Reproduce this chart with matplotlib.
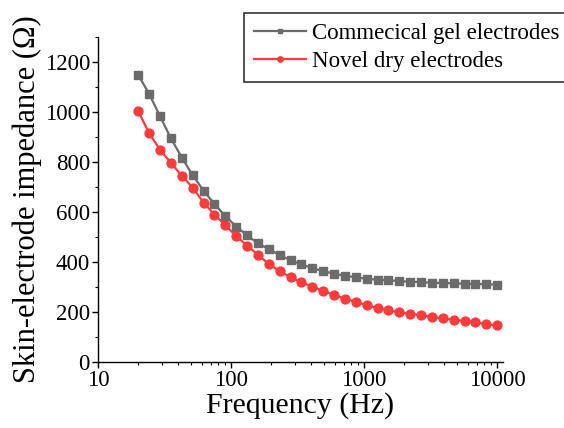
import matplotlib.pyplot as plt
from matplotlib.ticker import MultipleLocator, FixedLocator, NullFormatter

# frequencies (Hz)
freq = [20, 24.1, 29.1, 35.2, 42.5, 51.3, 61.9, 74.8, 90.3, 109, 131.6, 158.9,
        191.8, 231.6, 279.6, 337.5, 407.4, 491.8, 593.7, 716.7, 865.2, 1044,
        1261, 1522, 1837, 2218, 2678, 3233, 3902, 4711, 5687, 6866, 8289, 10000]

# impedance (ohm)
gel = [1147, 1073, 983, 894, 817, 746, 685, 631, 583, 541, 506, 474,
       450, 427, 406, 390, 374, 363, 352, 344, 338, 332, 328, 326,
       323, 320, 319, 316, 315, 314, 312, 311, 310, 309]
dry = [1003, 915, 849, 796, 744, 697, 637, 589, 546, 503, 465, 428,
       391, 363, 338, 318, 300, 284, 267, 252, 240, 226, 215, 206,
       198, 192, 186, 179, 174, 168, 163, 158, 150, 145]

labels = ['Commecical gel electrodes', 'Novel dry electrodes']

plt.rcParams['font.family'] = ['Liberation Serif', 'DejaVu Serif']

fig = plt.figure(figsize=(5.64, 4.28), dpi=100)
ax = fig.add_axes([0.1743, 0.1549, 0.891 - 0.1743, 0.9136 - 0.1549])

ax.plot(freq, gel, '-s', color='#6b6b6b', lw=1.6, ms=5.8, label=labels[0])
ax.plot(freq, dry, '-o', color='#ff3b3b', lw=1.6, ms=6.4, label=labels[1])

ax.set_xscale('log')
ax.set_xlim(10, 10980)
ax.set_ylim(0, 1300)
ax.xaxis.set_major_locator(FixedLocator([10, 100, 1000, 10000]))
ax.set_xticklabels(['10', '100', '1000', '10000'])
ax.xaxis.set_minor_formatter(NullFormatter())
ax.yaxis.set_major_locator(MultipleLocator(200))
ax.yaxis.set_minor_locator(MultipleLocator(100))

for s in ['top', 'right']:
    ax.spines[s].set_visible(False)
for s in ['left', 'bottom']:
    ax.spines[s].set_linewidth(1.0)

ax.tick_params(which='major', direction='out', length=4, width=1.0,
               labelsize=16.5, pad=2)
ax.tick_params(which='minor', direction='out', length=2.5, width=0.8)

ax.set_xlabel('Frequency (Hz)', fontsize=21.5, labelpad=1)
ax.set_ylabel('Skin-electrode impedance (Ω)', fontsize=22, labelpad=2)

leg = fig.legend(loc='upper left', bbox_to_anchor=(244 / 564, 1 - 13 / 428),
                 fontsize=16.5, frameon=True, fancybox=False, borderaxespad=0,
                 handlelength=2.3, handletextpad=0.26, markerscale=0.6,
                 borderpad=0.42, labelspacing=0.32)
leg.get_frame().set_edgecolor('black')
leg.get_frame().set_linewidth(1.2)

fig.savefig('out.png', dpi=100)
